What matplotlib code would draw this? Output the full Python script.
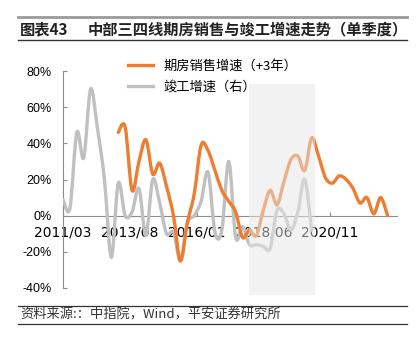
import matplotlib
matplotlib.use('Agg')
import matplotlib.pyplot as plt
import numpy as np
import pandas as pd
from matplotlib.path import Path
from matplotlib.patches import PathPatch, Rectangle
from matplotlib.lines import Line2D

# quarterly dates, 2011/03 .. 2022/12
quarters = pd.date_range('2011-03-01', '2022-12-01', freq='3MS')

# 竣工增速 (%), from 2011/03
completion = [9, 4, 46, 32, 70, 48, 20, -23, 18, 0, 2, 15, -11, 20, 7, -10,
              -9, -25, -4, 0, 8, 24, -9, -8, 30, -12, -6, -16, -16, -17, -18,
              3, 1, -8, 2, 20, -8]

# 期房销售增速 (+3年, %), from 2013/03
sales_start = '2013-03-01'
sales = [46, 49, 14, 30, 42, 23, 29, 16, 0, -25, -4, 12, 39, 36, 25, 14, 8,
         2, -12, -8, -11, 3, 14, 6, 19, 31, 33, 25, 43, 33, 21, 18, 22, 20,
         15, 7, 10, 1, 10, 0]

tick_labels = ['2011/03', '2013/08', '2016/01', '2018/06', '2020/11']
y_ticks = [-40, -20, 0, 20, 40, 60, 80]

ORANGE = '#ED7D31'
GREY = '#C0C0C0'
CJK = ['Noto Sans CJK SC', 'DejaVu Sans']


def months_since(d, start=quarters[0]):
    d = pd.Timestamp(d)
    return (d.year - start.year) * 12 + (d.month - start.month)


def smooth_line(ax, x, y, color, lw):
    # Excel-like smoothed line drawn as cubic bezier segments
    pts = np.column_stack([x, y]).astype(float)
    n = len(pts)
    verts = [pts[0]]
    codes = [Path.MOVETO]
    for i in range(n - 1):
        p0 = pts[max(i - 1, 0)]
        p1 = pts[i]
        p2 = pts[i + 1]
        p3 = pts[min(i + 2, n - 1)]
        verts += [p1 + (p2 - p0) / 6, p2 - (p3 - p1) / 6, p2]
        codes += [Path.CURVE4] * 3
    patch = PathPatch(Path(verts, codes), fill=False, edgecolor=color, lw=lw,
                      capstyle='round', joinstyle='round', zorder=3)
    ax.add_patch(patch)


fig = plt.figure(figsize=(4.2, 3.47), dpi=100)
ax = fig.add_axes([63 / 420, 59 / 347, 333.8 / 420, 217 / 347])

x_comp = [months_since(d) for d in quarters[:len(completion)]]
s0 = months_since(sales_start)
x_sales = [s0 + 3 * i for i in range(len(sales))]

smooth_line(ax, x_comp, completion, GREY, 2.4)
smooth_line(ax, x_sales, sales, ORANGE, 2.4)

# shaded period, drawn over the lines
band = Rectangle((80.8, -44), 28.7, 117, facecolor=(0.9, 0.9, 0.9), alpha=0.5,
                 lw=0, zorder=10, clip_on=False)
ax.add_patch(band)

ax.set_xlim(0, 145)
ax.set_ylim(-40, 80)
ax.set_yticks(y_ticks)
ax.set_yticklabels([f'{v}%' for v in y_ticks], family='Liberation Sans', fontsize=9)
ax.set_xticks([months_since(pd.Timestamp(t.replace('/', '-') + '-01')) for t in tick_labels])
ax.set_xticklabels(tick_labels, family='Liberation Sans', fontsize=9)

for side in ['top', 'right']:
    ax.spines[side].set_visible(False)
ax.spines['bottom'].set_position(('data', 0))
ax.spines['bottom'].set_color('#8c8c8c')
ax.spines['left'].set_color('#8c8c8c')
ax.tick_params(axis='y', direction='in', length=3, color='#8c8c8c', pad=8)
ax.tick_params(axis='x', direction='in', length=3, color='#8c8c8c', pad=7)

handles = [Line2D([], [], color=ORANGE, lw=2.4),
           Line2D([], [], color=GREY, lw=2.4)]
ax.legend(handles, ['期房销售增速（+3年）', '竣工增速（右）'],
          loc='upper left', bbox_to_anchor=(128 / 420, 1 - 60 / 347),
          bbox_transform=fig.transFigure, frameon=False, borderpad=0,
          borderaxespad=0, handlelength=1.9, handletextpad=0.8,
          labelspacing=0.6, prop={'family': CJK, 'size': 9.5})

# title block
fig.add_artist(Line2D([18 / 420, 407 / 420], [1 - 17 / 347] * 2, color='#9a9a9a',
                      lw=2, transform=fig.transFigure))
fig.add_artist(Line2D([18 / 420, 407 / 420], [1 - 40 / 347] * 2, color='#333333',
                      lw=1, transform=fig.transFigure))
fig.text(20 / 420, 1 - 29 / 347, '图表43', family=CJK, fontsize=11,
         fontweight='bold', ha='left', va='center', color='#222222')
fig.text(88 / 420, 1 - 29 / 347, '中部三四线期房销售与竣工增速走势（单季度）',
         family=CJK, fontsize=11, fontweight='bold', ha='left', va='center',
         color='#222222')

# source block
fig.add_artist(Line2D([18 / 420, 407 / 420], [1 - 306 / 347] * 2, color='#333333',
                      lw=0.9, transform=fig.transFigure))
fig.add_artist(Line2D([18 / 420, 407 / 420], [1 - 324 / 347] * 2, color='#333333',
                      lw=0.9, transform=fig.transFigure))
fig.text(20 / 420, 1 - 315 / 347, '资料来源:：中指院，Wind，平安证券研究所',
         family=CJK, fontsize=9.5, style='italic', ha='left', va='center',
         color='#333333')

fig.savefig('out.png', dpi=100)
